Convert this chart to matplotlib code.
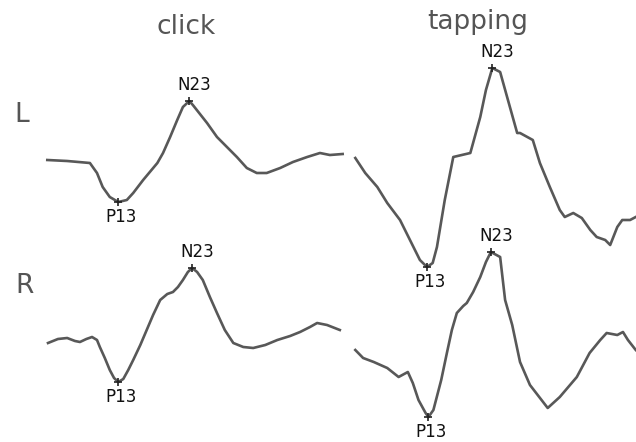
import numpy as np
import matplotlib
matplotlib.use("Agg")
import matplotlib.pyplot as plt

# cVEMP recordings, time in ms, amplitude in uV (arbitrary baseline)
click_L_t = [3.0, 5.8, 9.0, 10.0, 10.8, 11.8, 13.0, 14.2, 15.1, 16.5, 18.5, 19.3, 20.3, 21.3,
             22.1, 23.0, 23.5, 25.5, 26.9, 28.3, 29.7, 31.1, 32.5, 33.9, 35.8, 37.6, 39.6,
             41.4, 42.8, 44.6]
click_L_a = [0.0, -0.25, -0.75, -3.25, -6.75, -9.25, -10.5, -10.0, -8.25, -5.0, -0.75, 1.75,
             5.75, 10.0, 13.25, 14.75, 13.75, 9.25, 5.75, 3.25, 0.75, -2.0, -3.25, -3.25,
             -2.0, -0.5, 0.75, 1.75, 1.25, 1.5]

click_R_t = [3.1, 4.5, 5.8, 6.9, 7.6, 8.5, 9.3, 10.0, 10.4, 11.1, 11.8, 12.4, 13.0, 13.7,
             14.4, 15.1, 16.1, 17.0, 17.9, 18.9, 19.9, 20.7, 21.4, 22.1, 22.8, 23.4, 24.1,
             24.9, 25.9, 26.9, 28.0, 29.2, 30.6, 32.0, 33.7, 35.4, 37.2, 38.6, 40.0, 41.0,
             42.4, 44.2]
click_R_a = [-0.75, 0.25, 0.5, -0.25, -0.5, 0.25, 0.75, 0.0, -1.75, -4.5, -7.5, -9.5, -10.5,
             -9.75, -7.5, -5.0, -1.25, 2.5, 6.25, 10.0, 11.5, 12.0, 13.25, 15.0, 17.0, 18.0,
             17.0, 15.0, 10.75, 6.75, 2.5, -0.75, -1.75, -2.0, -1.25, 0.0, 1.0, 2.0, 3.25,
             4.25, 3.75, 2.5]

tap_L_t = [3.0, 4.4, 6.1, 7.5, 9.3, 10.7, 12.1, 13.1, 13.9, 14.5, 15.6, 16.8, 18.0, 19.2,
           19.9, 20.6, 21.4, 22.3, 23.4, 24.5, 25.8, 26.2, 28.0, 29.0, 30.4, 31.8, 32.5,
           33.7, 34.9, 36.1, 37.0, 38.2, 38.9, 39.9, 40.6, 41.7, 42.5]
tap_L_a = [0.5, -3.25, -6.75, -10.75, -15.0, -20.0, -25.0, -26.75, -25.75, -21.75, -10.0,
           0.75, 1.25, 1.75, 6.25, 10.75, 17.5, 23.0, 22.0, 15.0, 6.75, 6.75, 5.0, -0.75,
           -6.75, -12.5, -14.25, -13.25, -14.5, -17.5, -19.25, -20.0, -21.25, -16.75, -15.0,
           -15.0, -14.25]

tap_R_t = [3.0, 4.1, 5.6, 7.5, 9.1, 10.4, 11.1, 11.9, 12.9, 13.3, 14.0, 15.1, 15.9, 16.6,
           17.3, 18.2, 18.7, 19.6, 20.6, 21.4, 22.1, 23.4, 24.1, 25.1, 26.2, 27.6, 30.1,
           31.8, 34.2, 36.0, 37.5, 38.4, 39.9, 40.7, 41.4, 42.5]
tap_R_a = [-2.5, -4.5, -5.5, -7.0, -9.25, -8.0, -10.75, -15.0, -18.25, -19.25, -17.5, -10.0,
           -3.25, 2.5, 6.75, 8.5, 9.25, 12.0, 15.75, 19.5, 22.0, 20.75, 10.0, 3.75, -5.5,
           -11.25, -17.0, -14.25, -9.25, -3.25, 0.0, 1.75, 1.25, 2.0, 0.0, -2.5]

columns = ["click", "tapping"]
rows = ["L", "R"]
traces = {
    ("click", "L"): (click_L_t, click_L_a),
    ("click", "R"): (click_R_t, click_R_a),
    ("tapping", "L"): (tap_L_t, tap_L_a),
    ("tapping", "R"): (tap_R_t, tap_R_a),
}

# layout of the panels on the page
W, H = 636, 442
col_x0 = {"click": 26, "tapping": 334}
row_y0 = {"L": 160, "R": 340}
px_ms = 7.1
px_uv = 4.0
line_col = "#585858"
head_col = "#555555"

fig = plt.figure(figsize=(W / 100, H / 100), dpi=100)
ax = fig.add_axes([0, 0, 1, 1])
ax.set_xlim(0, W)
ax.set_ylim(H, 0)
ax.axis("off")

for (col, row), (t, a) in traces.items():
    t = np.array(t)
    a = np.array(a)
    x = col_x0[col] + t * px_ms
    y = row_y0[row] - a * px_uv
    ax.plot(x, y, color=line_col, lw=1.9, solid_joinstyle="round")

    # mark the P13 trough and N23 peak
    i_p = np.argmin(a)
    i_n = np.argmax(a)
    ax.plot(x[[i_p, i_n]], y[[i_p, i_n]], "+", color="#222222", ms=6, mew=1.2)
    ax.text(x[i_n] + 5, y[i_n] - 16, "N23", ha="center", va="center",
            fontsize=12, color="#111111", family="DejaVu Sans")
    ax.text(x[i_p] + 3, y[i_p] + 15, "P13", ha="center", va="center",
            fontsize=12, color="#111111", family="DejaVu Sans")

ax.text(186, 27, "click", ha="center", va="center", fontsize=19, color=head_col)
ax.text(478, 22, "tapping", ha="center", va="center", fontsize=19, color=head_col)
ax.text(22, 115, "L", ha="center", va="center", fontsize=19, color=head_col)
ax.text(25, 286, "R", ha="center", va="center", fontsize=19, color=head_col)

fig.savefig("out.png", dpi=100)
